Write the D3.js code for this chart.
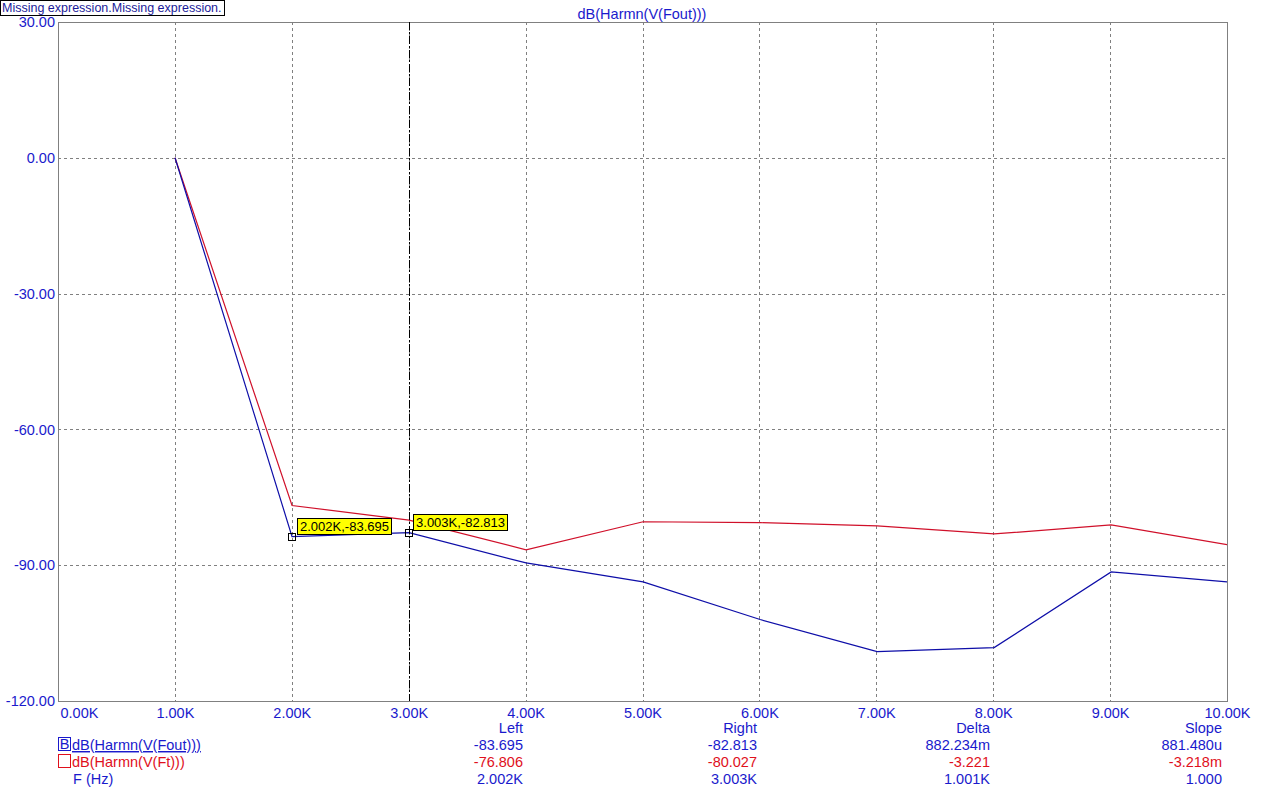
<!DOCTYPE html>
<html><head><meta charset="utf-8">
<script src="https://cdn.jsdelivr.net/npm/d3@7"></script>
<style>
body{margin:0;background:#fff;}
svg{display:block;font-family:"Liberation Sans",Arial,sans-serif;}
</style></head>
<body><svg id="c" width="1267" height="801"></svg>
<script>
const freqs = [1001, 2002, 3003, 4004, 5005, 6006, 7007, 8008, 9009, 10010];
const foutDb = [0, -83.695, -82.813, -89.5, -93.7, -102.0, -109.1, -108.2, -91.5, -93.7];
const ftDb = [0, -76.806, -80.027, -86.6, -80.4, -80.6, -81.3, -83.1, -81.1, -85.5];
const xTicks = [0,1000,2000,3000,4000,5000,6000,7000,8000,9000,10000];
const yTicks = [30,0,-30,-60,-90,-120];
const cursorLeft = {f:2002, v:-83.695, label:"2.002K,-83.695"};
const cursorRight = {f:3003, v:-82.813, label:"3.003K,-82.813"};
const tableHeaders = ["Left","Right","Delta","Slope"];
const tableRows = [
  {name:"dB(Harmn(V(Fout)))", vals:["-83.695","-82.813","882.234m","881.480u"], color:"#1a1acc", box:"B", under:true},
  {name:"dB(Harmn(V(Ft)))", vals:["-76.806","-80.027","-3.221","-3.218m"], color:"#e0101c", box:"", under:false},
  {name:"F (Hz)", vals:["2.002K","3.003K","1.001K","1.000"], color:"#1a1acc", box:null, under:false}
];

const svg = d3.select("#c");
const L=58, T=22, R=1227, B=701;
const x = d3.scaleLinear().domain([0,10000]).range([L,R]);
const y = d3.scaleLinear().domain([-120,30]).range([B,T]);
const tc = "#1a1acc";
const fs = 14.5;

// grid
const g = svg.append("g");
g.selectAll(".gx").data(xTicks.slice(1,-1)).join("line")
  .attr("x1",d=>Math.round(x(d))+0.5).attr("x2",d=>Math.round(x(d))+0.5)
  .attr("y1",T).attr("y2",B).attr("stroke","#808080").attr("stroke-dasharray","3,3");
g.selectAll(".gy").data(yTicks.slice(1,-1)).join("line")
  .attr("y1",d=>Math.round(y(d))+0.5).attr("y2",d=>Math.round(y(d))+0.5)
  .attr("x1",L).attr("x2",R).attr("stroke","#808080").attr("stroke-dasharray","3,3");

// frame
svg.append("rect").attr("x",L+0.5).attr("y",T+0.5).attr("width",R-L).attr("height",B-T)
  .attr("fill","none").attr("stroke","#808080");

// axes labels
const ax = d3.axisBottom(x).tickValues(xTicks).tickSize(0).tickFormat(d=>(d/1000).toFixed(2)+"K");
const gxa = svg.append("g").attr("transform",`translate(0,${B})`).call(ax);
gxa.select(".domain").remove();
gxa.selectAll("text").attr("fill",tc).attr("font-size",fs).attr("font-family","Liberation Sans, Arial").attr("dy","0.95em");
gxa.selectAll(".tick").filter(d=>d===0).select("text").attr("text-anchor","start").attr("x",2);

const ay = d3.axisLeft(y).tickValues(yTicks).tickSize(0).tickPadding(3).tickFormat(d=>d.toFixed(2));
const gya = svg.append("g").attr("transform",`translate(${L},0)`).call(ay);
gya.select(".domain").remove();
gya.selectAll("text").attr("fill",tc).attr("font-size",fs).attr("font-family","Liberation Sans, Arial");

// clip
svg.append("clipPath").attr("id","pc").append("rect").attr("x",L).attr("y",T).attr("width",R-L).attr("height",B-T);

const line = d3.line().x(d=>x(d[0])).y(d=>y(d[1]));
svg.append("path").datum(freqs.map((f,i)=>[f,ftDb[i]])).attr("d",line)
  .attr("fill","none").attr("stroke","#d0102a").attr("stroke-width",1.2).attr("clip-path","url(#pc)");
svg.append("path").datum(freqs.map((f,i)=>[f,foutDb[i]])).attr("d",line)
  .attr("fill","none").attr("stroke","#0e0ea8").attr("stroke-width",1.2).attr("clip-path","url(#pc)");

// cursor line
svg.append("line").attr("x1",Math.round(x(cursorRight.f))+0.5).attr("x2",Math.round(x(cursorRight.f))+0.5)
  .attr("y1",T).attr("y2",B).attr("stroke","#000").attr("stroke-dasharray","8,2,2,2");

// cursor markers & labels
[cursorLeft,cursorRight].forEach((c,i)=>{
  const cx = x(c.f), cy = y(c.v);
  svg.append("rect").attr("x",Math.round(cx)-3.5).attr("y",Math.round(cy)-3.5).attr("width",7).attr("height",7)
    .attr("fill","none").attr("stroke","#000");
  const t = svg.append("text").attr("font-size",13).attr("fill","#000")
    .attr("font-family","Liberation Sans, Arial").text(c.label);
  const tx = i===0 ? cx+8 : cx+7;
  const ty = i===0 ? cy-6 : cy-6;
  t.attr("x",tx).attr("y",ty);
  const bb = t.node().getBBox();
  svg.insert("rect", () => t.node()).attr("x",Math.round(bb.x)-2.5).attr("y",Math.round(bb.y)-0.5)
    .attr("width",Math.round(bb.width)+5).attr("height",Math.round(bb.height)+1)
    .attr("fill","#ffff00").attr("stroke","#000");
});

// title
svg.append("text").attr("x",642).attr("y",19).attr("text-anchor","middle").attr("font-size",fs)
  .attr("fill",tc).text("dB(Harmn(V(Fout)))");

// top-left box
const mt = svg.append("text").attr("x",2).attr("y",12).attr("font-size",12.5).attr("fill","#1a1a99").text("Missing expression.Missing expression.");
const mb = mt.node().getBBox();
svg.insert("rect",()=>mt.node()).attr("x",0.5).attr("y",0.5).attr("width",Math.round(mb.width)+4).attr("height",15)
  .attr("fill","#fff").attr("stroke","#000");

// table
const colX = [523,757,990,1222];
const rowY = [733,750,767,784];
tableHeaders.forEach((h,j)=>svg.append("text").attr("x",colX[j]).attr("y",rowY[0]).attr("text-anchor","end")
  .attr("font-size",fs).attr("fill",tc).text(h));
tableRows.forEach((r,i)=>{
  const yy = rowY[i+1];
  if(r.box!==null){
    svg.append("rect").attr("x",58.5).attr("y",yy-12.5).attr("width",12).attr("height",13)
      .attr("fill","none").attr("stroke",r.color);
    if(r.box) svg.append("text").attr("x",64.5).attr("y",yy-1).attr("text-anchor","middle").attr("font-size",fs)
      .attr("fill",r.color).text(r.box);
  }
  svg.append("text").attr("x",r.box===null?73:72).attr("y",yy).attr("font-size",fs).attr("fill",r.color)
    .attr("text-decoration",r.under?"underline":null).text(r.name);
  r.vals.forEach((v,j)=>svg.append("text").attr("x",colX[j]).attr("y",yy).attr("text-anchor","end")
    .attr("font-size",fs).attr("fill",r.color).text(v));
});
</script></body></html>
